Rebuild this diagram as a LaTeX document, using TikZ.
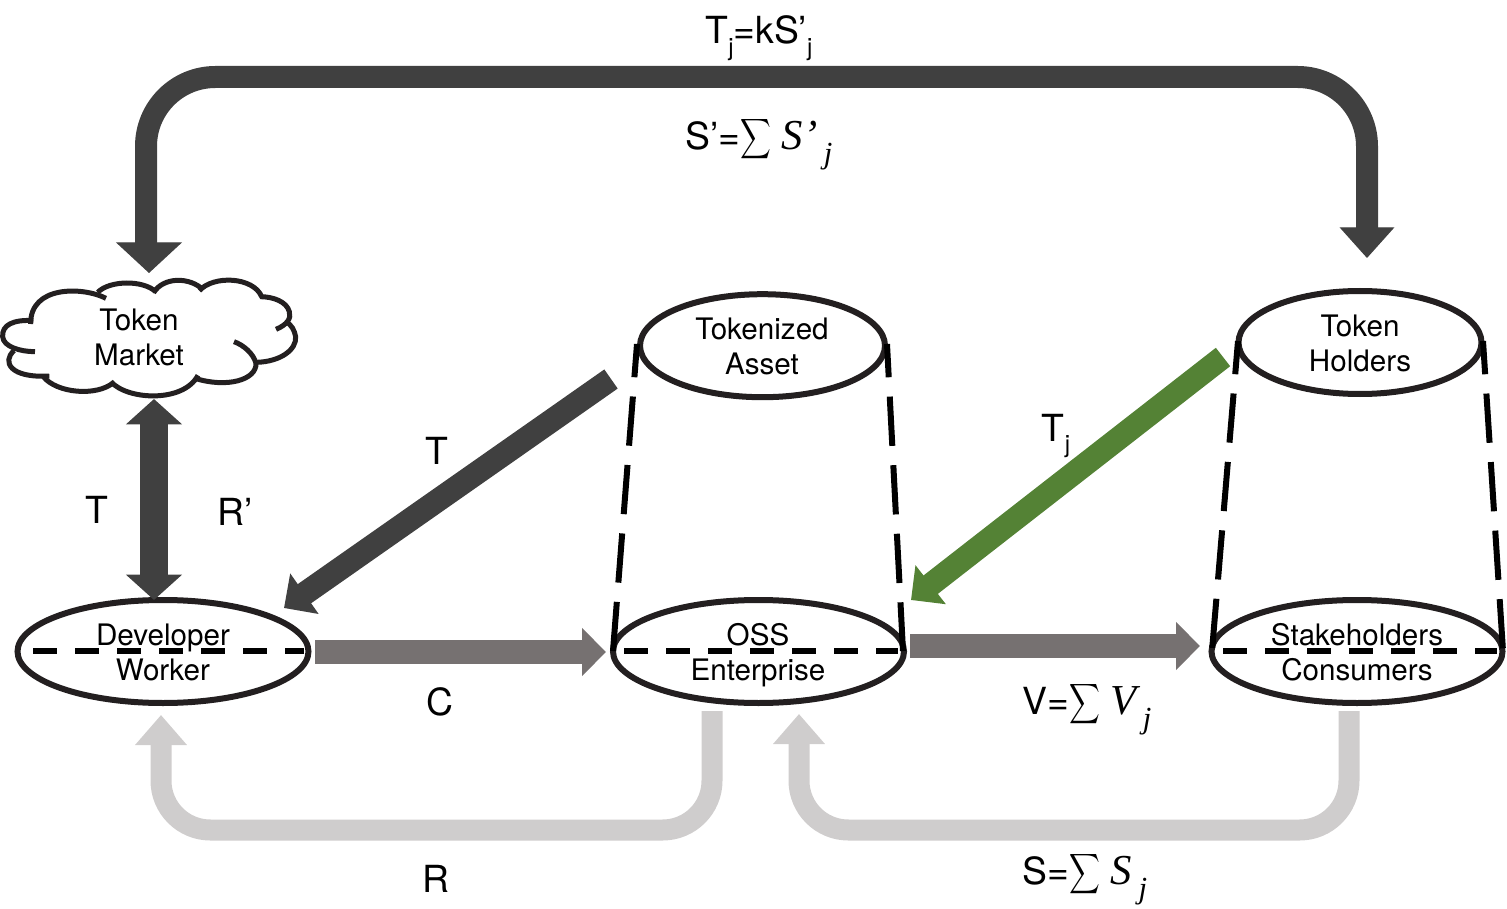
\documentclass[tikz,border=0pt]{standalone}
\usepackage{fontspec}
\usepackage{graphicx}
\setmainfont{TeX Gyre Heros}
\newfontfamily\tnr{Liberation Serif}
\usetikzlibrary{arrows.meta,shapes.geometric}
\definecolor{darkar}{HTML}{404040}
\definecolor{midar}{HTML}{767171}
\definecolor{lightar}{HTML}{CFCDCD}
\definecolor{greenar}{HTML}{548235}
\definecolor{inkc}{HTML}{231F20}
\newcommand{\subj}{\raisebox{-0.32em}{\fontsize{18}{18}\selectfont j}}
\newcommand{\isubj}{\raisebox{-0.36em}{\tnr\itshape\fontsize{23}{23}\selectfont j}}
\newcommand{\bigsum}{\raisebox{-0.18em}{\scalebox{1.6}[2.1]{$\displaystyle\sum$}}\hspace{0.28em}}
\newcommand{\itl}[1]{{\tnr\itshape\fontsize{32}{36}\selectfont #1}}
\tikzset{
 x=0.75pt,y=-0.75pt,
 txt/.style={font=\fontsize{22.2}{26.25}\selectfont,align=center,inner sep=0pt,text=black},
 lab/.style={font=\fontsize{28}{32}\selectfont,inner sep=0pt,text=black},
 ell/.style={ellipse,draw=inkc,line width=4.5pt,fill=white,inner sep=0pt,outer sep=0pt},
 dashv/.style={draw=black,line width=4.5pt,dash pattern=on 37pt off 14.5pt,dash phase=12pt},
 dashh/.style={draw=black,line width=4.5pt,dash pattern=on 18pt off 13.5pt},
 cl/.style={draw=inkc,line width=3.75pt,line cap=butt},
 bigar/.style={line width=16.5pt,draw=darkar,rounded corners=52pt},
 lightc/.style={line width=15.75pt,draw=lightar,rounded corners=37pt,-{Triangle[length=22.5pt,width=37.5pt,fill=lightar]}},
 midc/.style={line width=18pt,draw=midar,-{Triangle[length=18pt,width=35pt,fill=midar]}},
 diagc/.style={line width=17.5pt,-{Triangle[length=18.7pt,width=36pt,fill=#1]},draw=#1},
}
\begin{document}
\begin{tikzpicture}
\useasboundingbox (0,0) rectangle (1507,909);
\coordinate (lefttop) at (146,244);
\coordinate (righttip) at (1367,258);
\coordinate (lefthead) at (149,242);
\coordinate (cloudtip) at (149,273);
\coordinate (ossdown) at (712,711);
\coordinate (devup) at (161,715);
\coordinate (stakedown) at (1349,711);
\coordinate (ossup) at (799,714);
\coordinate (devright) at (315,652);
\coordinate (ossleft) at (606,652);
\coordinate (ossright) at (910,646);
\coordinate (stakeleft) at (1200,646);
\coordinate (assetout) at (611,379);
\coordinate (devtop) at (284,608);
\coordinate (holdout) at (1223,357);
\coordinate (osstop) at (911,600);
\coordinate (mktbot) at (154,399);
\coordinate (devtopv) at (154,600);
\coordinate (dl) at (33,651);
\coordinate (dr) at (304,651);
\coordinate (ol) at (624,651);
\coordinate (or) at (898,651);
\coordinate (sl) at (1223,651);
\coordinate (sr) at (1497,651);

% ellipses
\node[ell,minimum width=245pt*0.75,minimum height=103pt*0.75] (asset) at (762.5,345.7) {};
\node[ell,minimum width=243pt*0.75,minimum height=103pt*0.75] (holders) at (1360,342.5) {};
\node[ell,minimum width=291pt*0.75,minimum height=103pt*0.75] (dev) at (163,651.5) {};
\node[ell,minimum width=291pt*0.75,minimum height=103pt*0.75] (oss) at (758.5,651.5) {};
\node[ell,minimum width=291pt*0.75,minimum height=103pt*0.75] (stake) at (1357,651.5) {};

% vertical dashed sides
\draw[dashv] (637,344) -- (613,651);
\draw[dashv] (887,344) -- (903,651);
\draw[dashv] (1238,341) -- (1212,651);
\draw[dashv] (1483,341) -- (1503,651);

\draw[dashh] (dl) -- (dr);
\draw[dashh] (ol) -- (or);
\draw[dashh] (sl) -- (sr);

% cloud
\begin{scope}[shift={(0,230)},x=0.25pt,y=-0.25pt]
\draw[cl] (318,205) .. controls (250,170) and (90,165) .. (92,282);
\draw[cl] (100,272) .. controls (40,268) and (5,285) .. (8,320) .. controls (10,350) and (60,365) .. (105,365);
\draw[cl] (42,362) .. controls (5,395) and (30,445) .. (148,438);
\draw[cl] (130,440) .. controls (170,490) and (290,500) .. (340,458);
\draw[cl] (333,455) .. controls (380,510) and (550,520) .. (594,436);
\draw[cl] (585,445) .. controls (680,475) and (770,450) .. (768,400) .. controls (760,370) and (730,345) .. (702,335);
\draw[cl] (770,397) .. controls (840,395) and (890,360) .. (887,320) .. controls (883,300) and (875,285) .. (858,275);
\draw[cl] (828,298) .. controls (860,285) and (875,265) .. (868,245) .. controls (860,215) and (820,200) .. (780,200);
\draw[cl] (785,200) .. controls (760,140) and (640,135) .. (598,182);
\draw[cl] (610,180) .. controls (570,140) and (490,140) .. (461,188);
\draw[cl] (467,185) .. controls (430,150) and (330,150) .. (293,187);
\end{scope}
\node[txt] (market) at (139,337) {Token\\Market};

% top loop
\draw[bigar] (lefttop) -- (146,77) -- (1367,77) -- (1367,230);
\draw[line width=1pt,draw=darkar,-{Triangle[length=23pt,width=49.5pt,fill=darkar]}] (lefthead) -- (cloudtip);
\draw[line width=1pt,draw=darkar,-{Triangle[length=23pt,width=41pt,fill=darkar]}] (1367,228) -- (righttip);

% double arrow
\draw[line width=21pt,draw=darkar,{Triangle[length=19pt,width=41pt,fill=darkar]}-{Triangle[length=19pt,width=41pt,fill=darkar]}] (mktbot) -- (devtopv);

% diagonals
\draw[diagc=darkar] (assetout) -- (devtop);
\draw[diagc=greenar] (holdout) -- (osstop);

% horizontals
\draw[midc] (devright) -- (ossleft);
\draw[midc] (ossright) -- (stakeleft);

% bottom returns
\draw[lightc] (ossdown) -- (712,830) -- (161,830) -- (devup);
\draw[lightc] (stakedown) -- (1349,830) -- (799,830) -- (ossup);

% ellipse text
\node[txt] (assettxt) at (762,346) {Tokenized\\Asset};
\node[txt] (holdtxt) at (1360,343) {Token\\Holders};
\node[txt] (devtxt) at (163,652) {Developer\\Worker};
\node[txt] (osstxt) at (758,655.5) {OSS\\Enterprise};
\node[txt] (staketxt) at (1357,652) {Stakeholders\\Consumers};

% labels
\node[lab] (l1) at (759,38) {T\subj=kS’\subj};
\node[lab] (l2) at (759,143) {S’=\bigsum\itl{S’}\,\isubj};
\node[lab] (l3) at (437,451) {T};
\node[lab] (l4) at (97,510) {T};
\node[lab] (l5) at (235,512) {R’};
\node[lab] (l6) at (440,702) {C};
\node[lab] (l7) at (436,879) {R};
\node[lab] (l8) at (1056,436) {T\subj};
\node[lab] (l9) at (1087,708) {V=\bigsum\itl{V}\,\isubj};
\node[lab] (l10) at (1085,878) {S=\bigsum\itl{S}\,\isubj};
\end{tikzpicture}
\end{document}
